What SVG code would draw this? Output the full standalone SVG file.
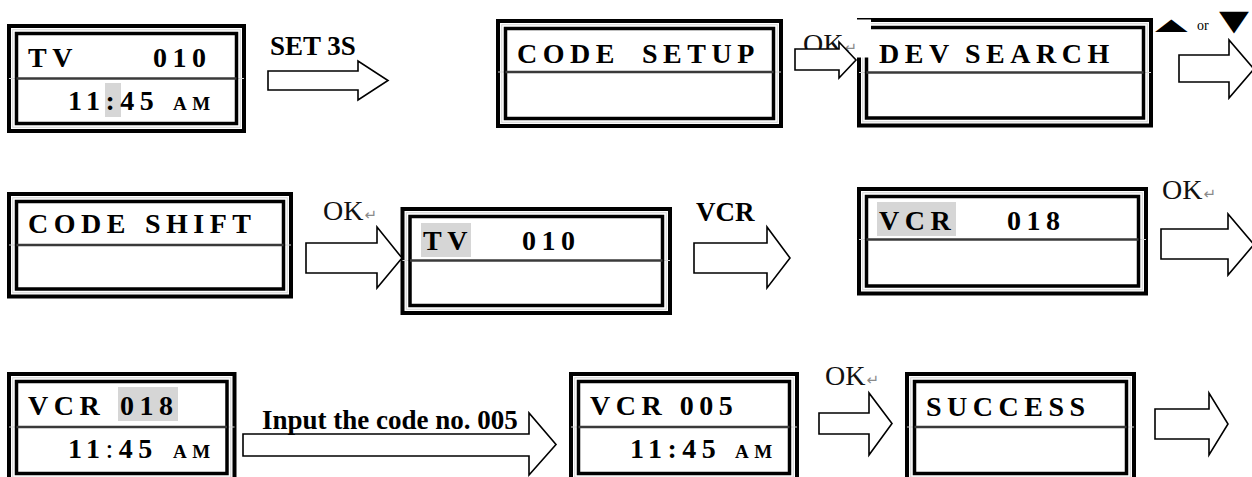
<svg xmlns="http://www.w3.org/2000/svg" width="1252" height="477" viewBox="0 0 1252 477">
<style>
.outer{fill:#fff;stroke:#000;stroke-width:4}
.grid{fill:none;stroke:#d4d4d4;stroke-width:1}
.inner{fill:none;stroke:#000;stroke-width:3.5}
.sepg{stroke:#d4d4d4;stroke-width:1}
.sep{stroke:#3a3a3a;stroke-width:2.5}
.hl{fill:#d6d6d6}
.lcd{font-family:"Liberation Serif","Times New Roman",serif;font-weight:bold;font-size:28px;letter-spacing:5.5px;fill:#000}
.ampm{font-size:19px}
.lbl{font-family:"Liberation Serif","Times New Roman",serif;font-weight:bold;font-size:27px;fill:#000}
.ok{font-family:"Liberation Serif","Times New Roman",serif;font-size:28px;fill:#111}
.ret{font-family:"DejaVu Sans",sans-serif;font-size:15px;fill:#8a8a8a}
.arrow{fill:#fff;stroke:#000;stroke-width:1.6;stroke-linejoin:miter}
.sym{font-family:"DejaVu Sans",sans-serif;fill:#000}
</style>
<rect width="1252" height="477" fill="#fff"/>

<g id="box-tv-clock">
<rect class="outer" x="9" y="26" width="235" height="105"/>
<rect class="grid" x="12.75" y="29.75" width="227.5" height="97.5"/>
<line class="sepg" x1="9" y1="78.5" x2="244" y2="78.5"/>
<rect class="inner" x="16.5" y="33.5" width="220" height="90"/>
<line class="sep" x1="16.5" y1="78.5" x2="236.5" y2="78.5"/>
<rect class="hl" x="105" y="83" width="16" height="34"/>
<text class="lcd" x="28" y="67">TV</text>
<text class="lcd" x="153" y="67">010</text>
<text class="lcd" x="68" y="110">11:45</text>
<text class="lcd ampm" x="173" y="110">AM</text>
</g>

<g id="box-code-setup">
<rect class="outer" x="498" y="21" width="283" height="105"/>
<rect class="grid" x="501.75" y="24.75" width="275.5" height="97.5"/>
<line class="sepg" x1="498" y1="72" x2="781" y2="72"/>
<rect class="inner" x="505.5" y="28.5" width="268" height="90"/>
<line class="sep" x1="505.5" y1="72" x2="773.5" y2="72"/>
<text class="lcd" x="517" y="63">CODE</text>
<text class="lcd" x="642" y="63">SETUP</text>
</g>

<g id="box-dev-search">
<rect class="outer" x="859" y="20" width="292" height="105.5"/>
<rect class="grid" x="862.75" y="23.75" width="284.5" height="98"/>
<line class="sepg" x1="859" y1="72.5" x2="1151" y2="72.5"/>
<rect class="inner" x="866.5" y="27.5" width="277" height="90.5"/>
<line class="sep" x1="866.5" y1="72.5" x2="1143.5" y2="72.5"/>
<text class="lcd" x="879" y="63">DEV</text>
<text class="lcd" x="965" y="63">SEARCH</text>
</g>

<g id="box-code-shift">
<rect class="outer" x="9" y="194" width="282" height="102.5"/>
<rect class="grid" x="12.75" y="197.75" width="274.5" height="95"/>
<line class="sepg" x1="9" y1="245" x2="291" y2="245"/>
<rect class="inner" x="16.5" y="201.5" width="267" height="87.5"/>
<line class="sep" x1="16.5" y1="245" x2="283.5" y2="245"/>
<text class="lcd" x="28" y="233">CODE</text>
<text class="lcd" x="145" y="233">SHIFT</text>
</g>

<g id="box-tv-select">
<rect class="outer" x="402.5" y="209" width="267.5" height="104"/>
<rect class="grid" x="406.25" y="212.75" width="260" height="96.5"/>
<line class="sepg" x1="402.5" y1="260.5" x2="670" y2="260.5"/>
<rect class="inner" x="410" y="216.5" width="252.5" height="89"/>
<line class="sep" x1="410" y1="260.5" x2="662.5" y2="260.5"/>
<rect class="hl" x="421" y="223" width="50" height="34"/>
<text class="lcd" x="423" y="250">TV</text>
<text class="lcd" x="522" y="250">010</text>
</g>

<g id="box-vcr-select">
<rect class="outer" x="859" y="189" width="287" height="104.5"/>
<rect class="grid" x="862.75" y="192.75" width="279.5" height="97"/>
<line class="sepg" x1="859" y1="239.5" x2="1146" y2="239.5"/>
<rect class="inner" x="866.5" y="196.5" width="272" height="89.5"/>
<line class="sep" x1="866.5" y1="239.5" x2="1138.5" y2="239.5"/>
<rect class="hl" x="877" y="202" width="79" height="34"/>
<text class="lcd" x="879" y="230">VCR</text>
<text class="lcd" x="1007" y="230">018</text>
</g>

<g id="box-vcr-018">
<rect class="outer" x="9" y="374" width="225.5" height="107"/>
<rect class="grid" x="12.75" y="377.75" width="218" height="99.5"/>
<line class="sepg" x1="9" y1="427" x2="234.5" y2="427"/>
<rect class="inner" x="16.5" y="381.5" width="210.5" height="92"/>
<line class="sep" x1="16.5" y1="427" x2="227" y2="427"/>
<rect class="hl" x="118" y="387" width="60" height="34"/>
<text class="lcd" x="28" y="415">VCR</text>
<text class="lcd" x="120" y="415">018</text>
<text class="lcd" x="68" y="458">11<tspan font-weight="normal">:</tspan>45</text>
<text class="lcd ampm" x="173" y="458">AM</text>
</g>

<g id="box-vcr-005">
<rect class="outer" x="571" y="374" width="226" height="107"/>
<rect class="grid" x="574.75" y="377.75" width="218.5" height="99.5"/>
<line class="sepg" x1="571" y1="427" x2="797" y2="427"/>
<rect class="inner" x="578.5" y="381.5" width="211" height="92"/>
<line class="sep" x1="578.5" y1="427" x2="789.5" y2="427"/>
<text class="lcd" x="590" y="415">VCR 005</text>
<text class="lcd" x="630" y="458">11:45</text>
<text class="lcd ampm" x="735" y="458">AM</text>
</g>

<g id="box-success">
<rect class="outer" x="907" y="374" width="227" height="107"/>
<rect class="grid" x="910.75" y="377.75" width="219.5" height="99.5"/>
<line class="sepg" x1="907" y1="427" x2="1134" y2="427"/>
<rect class="inner" x="914.5" y="381.5" width="212" height="92"/>
<line class="sep" x1="914.5" y1="427" x2="1126.5" y2="427"/>
<text class="lcd" x="926" y="416">SUCCESS</text>
</g>

<g id="connectors">
<rect x="855.5" y="19.5" width="15.5" height="38" fill="#fff"/>
<text class="ok" x="803" y="53">OK<tspan class="ret" dx="1">↵</tspan></text>
<polygon class="arrow" points="268,71 358,71 358,61 388,80.5 358,100 358,90 268,90"/>
<polygon class="arrow" points="795,49 839,49 839,42 856,60 839,78 839,70 795,70"/>
<polygon class="arrow" points="1179,55 1229,55 1229,40 1254,69 1229,98 1229,82 1179,82"/>
<polygon class="arrow" points="306,243 377,243 377,227 402,258 377,288 377,273 306,273"/>
<polygon class="arrow" points="694,243 767,243 767,227 790,258 767,288 767,273 694,273"/>
<polygon class="arrow" points="1161,229 1228,229 1228,214 1254,244.5 1228,275 1228,259 1161,259"/>
<polygon class="arrow" points="243,434 529,434 529,413 556,444.5 529,475 529,456 243,456"/>
<polygon class="arrow" points="819,413 869,413 869,393 892,423.5 869,455 869,434 819,434"/>
<polygon class="arrow" points="1155,409 1209,409 1209,393 1228,424 1209,455 1209,439 1155,439"/>
<text class="lbl" x="270" y="55">SET 3S</text>
<text class="sym" font-size="30" transform="translate(1155,30) scale(1.42,0.55)">▲</text>
<text font-family="Liberation Serif,serif" font-size="14" fill="#000" x="1197" y="30">or</text>
<text class="sym" font-size="30" transform="translate(1219,29.5) scale(1.3,0.95)">▼</text>
<text class="ok" x="323" y="220">OK<tspan class="ret" dx="1">↵</tspan></text>
<text class="lbl" x="696" y="221" font-size="28">VCR</text>
<text class="ok" x="1162" y="199">OK<tspan class="ret" dx="1">↵</tspan></text>
<text class="lbl" x="262" y="429" font-size="28">Input the code no. 005</text>
<text class="ok" x="825" y="385">OK<tspan class="ret" dx="1">↵</tspan></text>
</g>
</svg>
